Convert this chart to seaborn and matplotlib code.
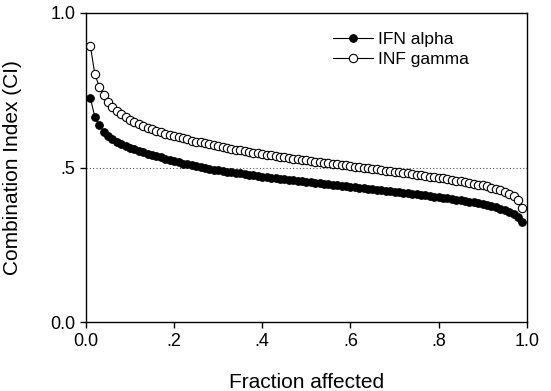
import matplotlib
matplotlib.use("Agg")
import matplotlib.pyplot as plt
import seaborn as sns

fraction = [
    0.01, 0.02, 0.03, 0.04, 0.05, 0.06, 0.07, 0.08, 0.09, 0.10,
    0.11, 0.12, 0.13, 0.14, 0.15, 0.16, 0.17, 0.18, 0.19, 0.20,
    0.21, 0.22, 0.23, 0.24, 0.25, 0.26, 0.27, 0.28, 0.29, 0.30,
    0.31, 0.32, 0.33, 0.34, 0.35, 0.36, 0.37, 0.38, 0.39, 0.40,
    0.41, 0.42, 0.43, 0.44, 0.45, 0.46, 0.47, 0.48, 0.49, 0.50,
    0.51, 0.52, 0.53, 0.54, 0.55, 0.56, 0.57, 0.58, 0.59, 0.60,
    0.61, 0.62, 0.63, 0.64, 0.65, 0.66, 0.67, 0.68, 0.69, 0.70,
    0.71, 0.72, 0.73, 0.74, 0.75, 0.76, 0.77, 0.78, 0.79, 0.80,
    0.81, 0.82, 0.83, 0.84, 0.85, 0.86, 0.87, 0.88, 0.89, 0.90,
    0.91, 0.92, 0.93, 0.94, 0.95, 0.96, 0.97, 0.98, 0.99,
]

ci_ifn_alpha = [
    0.724, 0.665, 0.636, 0.616, 0.602, 0.591, 0.582, 0.575, 0.569, 0.564,
    0.559, 0.554, 0.549, 0.545, 0.541, 0.537, 0.533, 0.529, 0.525, 0.521,
    0.517, 0.513, 0.510, 0.507, 0.504, 0.501, 0.498, 0.496, 0.493, 0.491,
    0.489, 0.487, 0.485, 0.483, 0.481, 0.479, 0.477, 0.475, 0.473, 0.471,
    0.469, 0.467, 0.466, 0.464, 0.462, 0.461, 0.459, 0.457, 0.456, 0.454,
    0.452, 0.451, 0.449, 0.448, 0.446, 0.444, 0.443, 0.441, 0.440, 0.438,
    0.436, 0.435, 0.433, 0.432, 0.430, 0.428, 0.427, 0.425, 0.424, 0.422,
    0.420, 0.419, 0.417, 0.415, 0.414, 0.412, 0.410, 0.408, 0.406, 0.404,
    0.402, 0.400, 0.398, 0.396, 0.394, 0.392, 0.390, 0.387, 0.384, 0.381,
    0.378, 0.375, 0.371, 0.367, 0.362, 0.357, 0.350, 0.341, 0.325,
]

ci_inf_gamma = [
    0.893, 0.803, 0.762, 0.733, 0.712, 0.696, 0.683, 0.672, 0.663, 0.655,
    0.648, 0.641, 0.635, 0.629, 0.624, 0.619, 0.614, 0.610, 0.606, 0.602,
    0.598, 0.594, 0.591, 0.587, 0.584, 0.581, 0.578, 0.575, 0.572, 0.569,
    0.566, 0.563, 0.561, 0.558, 0.556, 0.553, 0.551, 0.548, 0.546, 0.544,
    0.542, 0.540, 0.537, 0.535, 0.533, 0.531, 0.529, 0.527, 0.525, 0.523,
    0.521, 0.519, 0.518, 0.516, 0.514, 0.512, 0.510, 0.508, 0.507, 0.505,
    0.503, 0.501, 0.499, 0.498, 0.496, 0.494, 0.492, 0.490, 0.489, 0.487,
    0.485, 0.483, 0.481, 0.479, 0.477, 0.475, 0.473, 0.471, 0.469, 0.467,
    0.465, 0.463, 0.461, 0.458, 0.456, 0.453, 0.451, 0.448, 0.445, 0.442,
    0.439, 0.435, 0.431, 0.427, 0.422, 0.416, 0.408, 0.396, 0.370,
]

x_ticks = [0.0, 0.2, 0.4, 0.6, 0.8, 1.0]
x_tick_labels = ["0.0", ".2", ".4", ".6", ".8", "1.0"]
y_ticks = [0.0, 0.5, 1.0]
y_tick_labels = ["0.0", ".5", "1.0"]
reference_ci = 0.5


def main():
    sns.set_style("ticks")
    plt.rcParams["font.family"] = ["Liberation Sans", "DejaVu Sans"]
    plt.rcParams["text.color"] = "black"
    plt.rcParams["axes.labelcolor"] = "black"

    fig = plt.figure(figsize=(5.51, 3.91), dpi=100)
    ax = fig.add_axes([0.156, 0.176, 0.8, 0.791])

    # reference line at CI = .5
    ax.axhline(reference_ci, color="#555555", linestyle=(0, (1, 2)), linewidth=0.8, zorder=1)

    sns.lineplot(x=fraction, y=ci_ifn_alpha, ax=ax, color="black", linewidth=0.8,
                 marker="o", markersize=5.5, markerfacecolor="black",
                 markeredgecolor="black", label="IFN alpha")
    sns.lineplot(x=fraction, y=ci_inf_gamma, ax=ax, color="black", linewidth=0.8,
                 marker="o", markersize=6, markerfacecolor="white",
                 markeredgecolor="black", markeredgewidth=0.8, label="INF gamma")

    ax.set_xlim(0, 1)
    ax.set_ylim(0, 1)
    ax.set_xticks(x_ticks)
    ax.set_xticklabels(x_tick_labels)
    ax.set_yticks(y_ticks)
    ax.set_yticklabels(y_tick_labels)
    ax.tick_params(direction="out", length=4, width=1, labelsize=13, colors="black")

    for side in ["top", "right", "bottom", "left"]:
        ax.spines[side].set_visible(True)
        ax.spines[side].set_color("black")
        ax.spines[side].set_linewidth(1.0)

    ax.set_xlabel("Fraction affected", fontsize=15)
    ax.set_ylabel("Combination Index (CI)", fontsize=15)
    ax.xaxis.set_label_coords(0.5, -0.165)
    ax.yaxis.set_label_coords(-0.145, 0.5)

    ax.legend(loc="upper left", bbox_to_anchor=(0.56, 0.94), frameon=False,
              borderpad=0, borderaxespad=0, fontsize=12.5, handlelength=2.3,
              handletextpad=0.3, labelspacing=0.3)

    fig.savefig("out.png", dpi=100)
    plt.close(fig)


if __name__ == "__main__":
    main()
